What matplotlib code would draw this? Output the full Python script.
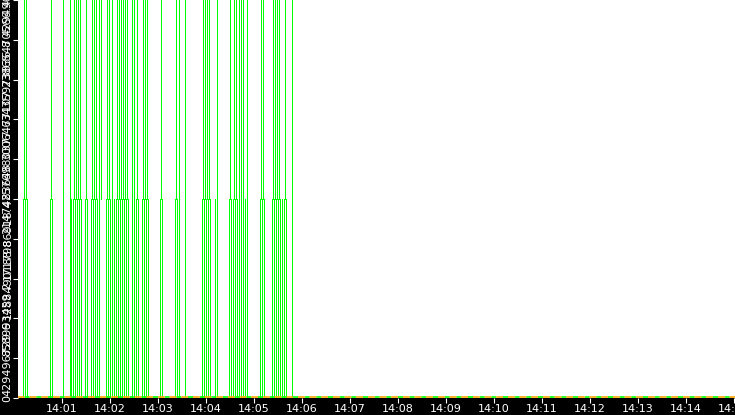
import numpy as np
import matplotlib
matplotlib.use("Agg")
import matplotlib.pyplot as plt
from matplotlib.ticker import FuncFormatter

# seconds after 14:00:00
upper_times = [12.5, 15, 46.2, 61.2, 70, 75, 77.5, 80, 82.5, 90, 97.5, 100,
               102.5, 106.2, 108.8, 116.2, 118.8, 122.5, 128.8, 131.2, 133.8,
               136.2, 138.8, 141.2, 147.5, 150, 153.8, 161.2, 163.8, 166.2,
               183.8, 202.5, 206.2, 213.8, 236.2, 238.8, 241.2, 243.8, 253.8,
               270, 275, 277.5, 281.2, 283.8, 286.2, 291.2, 308.8, 311.2,
               323.8, 326.2, 328.8, 331.2, 338.8, 347.5]
lower_times = [11.2, 13.8, 16.2, 45, 47.5, 61, 69.6, 71.6, 74.1, 76.6, 79.1,
               81.6, 84.1, 89.1, 91.6, 96.6, 99.1, 101.6, 104.1, 106.6, 115,
               117.5, 120, 122.5, 125, 127.5, 130, 132.5, 135, 137.5, 140,
               142.5, 147.5, 150, 152.5, 155, 160, 162.5, 165, 167.5, 182.9,
               185.4, 201.6, 204.1, 206.6, 214.1, 235.4, 237.9, 240.4, 242.9,
               245.4, 251.6, 254.1, 269.1, 271.6, 274.1, 276.6, 279.1, 281.6,
               284.1, 286.6, 289.1, 291.6, 307.9, 310.4, 312.9, 322.9, 325.4,
               327.9, 330.4, 332.9, 335.4, 337.9, 340.4, 347.9]
low_level = 2147483648
high_level = 4294967296
y_ticks = np.linspace(0, high_level, 11)
x_ticks = list(range(60, 901, 60))

green = '#00ff00'

fig = plt.figure(figsize=(7.35, 4.15), dpi=100, facecolor='black')
ax = fig.add_axes([18 / 735, 17 / 415, 1 - 18 / 735, 1 - 17 / 415])
ax.set_facecolor('white')

ax.vlines(lower_times, 0, low_level, colors=green, linewidth=0.72,
          antialiased=False)
ax.vlines(upper_times, low_level, high_level, colors=green, linewidth=0.72,
          antialiased=False)

# thin coloured trace along the baseline
ax.plot([5, 901], [high_level * 0.002, high_level * 0.002], color='#ffa500',
        gapcolor=green, linestyle=(0, (4, 3)), linewidth=1.2)

ax.set_xlim(5, 901)
ax.set_ylim(0, high_level)
ax.set_xticks(x_ticks)
ax.xaxis.set_major_formatter(
    FuncFormatter(lambda t, pos: '14:{:02d}'.format(int(round(t)) // 60)))
ax.set_yticks(y_ticks)
ax.set_yticklabels(['{:.1f}'.format(v).rstrip('0').rstrip('.') for v in y_ticks],
                   rotation=90, va='center')

ax.tick_params(axis='both', colors='white', labelcolor='white', labelsize=8,
               length=3.5, width=0.8, direction='out', pad=1)
ax.tick_params(axis='y', pad=0.5)
for s in ax.spines.values():
    s.set_visible(False)

fig.savefig('out.png', dpi=100, facecolor='black')
